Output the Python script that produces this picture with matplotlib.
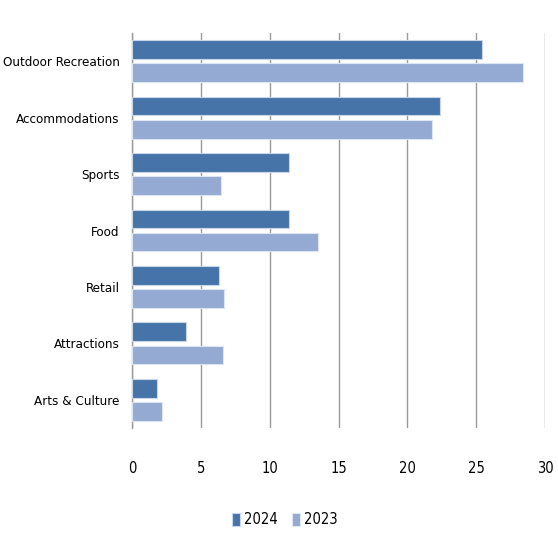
import matplotlib.pyplot as plt
import numpy as np

categories = ["Outdoor Recreation", "Accommodations", "Sports", "Food",
              "Retail", "Attractions", "Arts & Culture"]
values_2024 = [25.4, 22.4, 11.4, 11.4, 6.3, 3.9, 1.8]
values_2023 = [28.4, 21.8, 6.5, 13.5, 6.7, 6.6, 2.2]
x_ticks = [0, 5, 10, 15, 20, 25, 30]

plt.rcParams['font.family'] = ['DejaVu Sans']
plt.rcParams['font.stretch'] = 'condensed'

fig = plt.figure(figsize=(5.58, 5.41), dpi=100)
ax = fig.add_axes([132 / 558, 1 - 428 / 541, 413 / 558, 395 / 541])

y = np.arange(len(categories))
h = 0.33
ax.barh(y - 0.205, values_2024, height=h, color="#4674a8", edgecolor="#c9d6ea",
        linewidth=0.8, label="2024", zorder=3)
ax.barh(y + 0.205, values_2023, height=h, color="#95aad2", edgecolor="#dde5f2",
        linewidth=0.8, label="2023", zorder=3)

ax.set_ylim(len(categories) - 0.5, -0.5)
ax.set_xlim(0, 30)
ax.set_yticks(y)
ax.set_yticklabels(categories, fontsize=9.6)
ax.set_xticks(x_ticks)
ax.set_xticklabels([str(t) for t in x_ticks], fontsize=10.5)
ax.tick_params(axis='both', length=0)
ax.tick_params(axis='x', pad=24)
ax.tick_params(axis='y', pad=9)

ax.grid(axis='x', color="#9a9a9a", linewidth=1.0, zorder=0)
for s in ["top", "right", "bottom"]:
    ax.spines[s].set_visible(False)
ax.spines["left"].set_color("#9a9a9a")
ax.spines["left"].set_linewidth(1.0)

fig.legend(loc="center", bbox_to_anchor=(285 / 558, 1 - 520 / 541), ncol=2,
           frameon=False, fontsize=10.5, handlelength=0.5, handleheight=1.0,
           handletextpad=0.3, columnspacing=1.0)

plt.savefig("out.png", dpi=100)
plt.close()
